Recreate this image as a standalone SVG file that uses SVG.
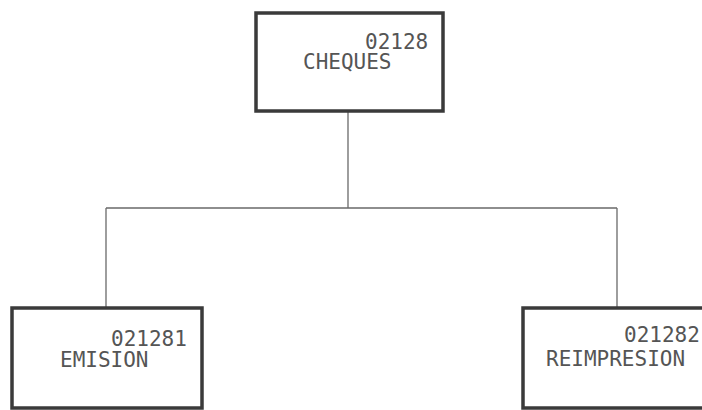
<svg xmlns="http://www.w3.org/2000/svg" width="702" height="410" viewBox="0 0 702 410">
<style>
.box{fill:#fff;stroke:#3a3a3a;stroke-width:3.5}
.lbl{font-family:"DejaVu Sans Mono","Liberation Mono",monospace;font-size:21px;fill:#555}
.conn{stroke:#6a6a6a;stroke-width:1.3;fill:none}
</style>
<rect width="702" height="410" fill="#fff"/>
<g id="connectors">
<path class="conn" d="M348,111 V208 M106,208 H617 M106,208 V308 M617,208 V308"/>
</g>
<g id="n02128">
<rect class="box" x="256" y="13" width="187" height="98"/>
<text class="lbl" x="365" y="49">02128</text>
<text class="lbl" x="303" y="69">CHEQUES</text>
</g>
<g id="n021281">
<rect class="box" x="12" y="308" width="190" height="100"/>
<text class="lbl" x="111" y="346">021281</text>
<text class="lbl" x="60" y="367">EMISION</text>
</g>
<g id="n021282">
<rect class="box" x="523" y="308" width="200" height="100"/>
<text class="lbl" x="624" y="342">021282</text>
<text class="lbl" x="546" y="366">REIMPRESION</text>
</g>
</svg>
